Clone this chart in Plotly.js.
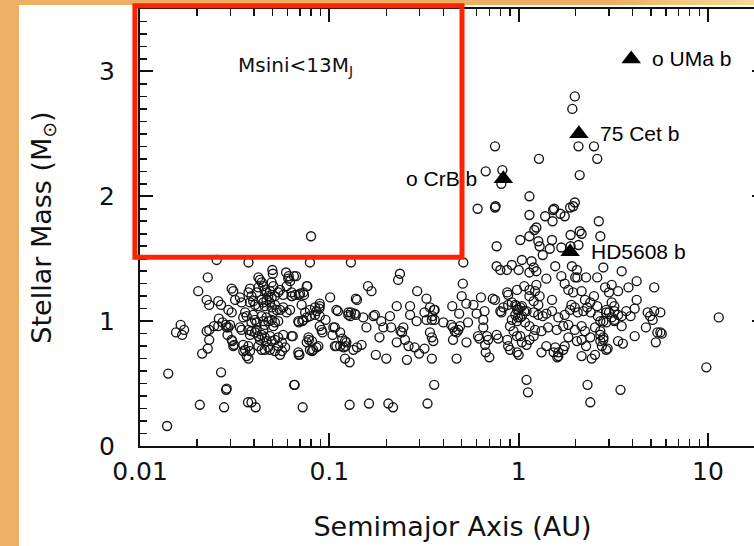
<!DOCTYPE html>
<html><head><meta charset="utf-8">
<script src="https://cdn.plot.ly/plotly-3.0.1.min.js"></script>
<style>
html,body{margin:0;padding:0;width:754px;height:546px;overflow:hidden;background:linear-gradient(90deg,#EDB064 0%,#EDB064 82%,#F2C77A 90%,#F6DA98 100%);}
#white{position:absolute;left:19px;top:5px;width:735px;height:541px;background:#fff;}
#chart{position:absolute;left:0;top:0;width:770px;height:546px;}
</style></head><body><div id="white"></div><div id="chart"></div>
<script>
// Host stars: semimajor axis (AU) and stellar mass (Msun)
const semimajorAxis = [
 0.0139,0.0141,0.0155,0.0164,0.0167,0.0171,0.0203,0.0207,0.0213,0.0225,
 0.0225,0.0228,0.0228,0.0232,0.0232,0.0232,0.0246,0.0254,0.0259,0.0259,
 0.0261,0.0268,0.0268,0.0273,0.0278,0.0284,0.0285,0.0287,0.0287,0.0293,
 0.0293,0.0290,0.0299,0.0305,0.0305,0.0305,0.0311,0.0307,0.0311,0.0314,
 0.0318,0.0337,0.0344,0.0337,0.0344,0.0351,0.0359,0.0366,0.0351,0.0359,
 0.0351,0.0366,0.0374,0.0372,0.0374,0.0374,0.0381,0.0381,0.0388,0.0396,
 0.0405,0.0374,0.0388,0.0405,0.0381,0.0374,0.0381,0.0388,0.0408,0.0396,
 0.0405,0.0413,0.0388,0.0413,0.0422,0.0422,0.0430,0.0440,0.0448,0.0456,
 0.0466,0.0439,0.0448,0.0456,0.0466,0.0422,0.0439,0.0448,0.0456,0.0476,
 0.0466,0.0413,0.0422,0.0439,0.0430,0.0448,0.0456,0.0466,0.0422,0.0439,
 0.0456,0.0476,0.0486,0.0476,0.0496,0.0496,0.0506,0.0500,0.0503,0.0516,
 0.0537,0.0549,0.0571,0.0486,0.0496,0.0516,0.0527,0.0506,0.0549,0.0571,
 0.0595,0.0620,0.0496,0.0516,0.0537,0.0506,0.0486,0.0496,0.0516,0.0537,
 0.0562,0.0571,0.0486,0.0516,0.0537,0.0549,0.0562,0.0584,0.0591,0.0595,
 0.0607,0.0620,0.0610,0.0650,0.0632,0.0632,0.0636,0.0632,0.0641,0.0652,
 0.0659,0.0667,0.0690,0.0700,0.0735,0.0729,0.0760,0.0765,0.0690,0.0720,
 0.0686,0.0729,0.0760,0.0790,0.0840,0.0890,0.0714,0.0745,0.0790,0.0840,
 0.0855,0.0890,0.0885,0.0890,0.0890,0.0910,0.0920,0.0780,0.0776,0.0760,
 0.0810,0.0790,0.0822,0.0810,0.0855,0.0875,0.0686,0.0690,0.0695,0.0723,
 0.0656,0.0790,0.0800,0.0955,0.101,0.105,0.104,0.107,0.107,0.109,
 0.111,0.114,0.117,0.121,0.123,0.109,0.114,0.119,0.122,0.126,
 0.126,0.129,0.130,0.136,0.138,0.138,0.140,0.151,0.157,0.121,
 0.128,0.128,0.130,0.134,0.140,0.148,0.160,0.167,0.162,0.171,
 0.174,0.176,0.184,0.188,0.193,0.200,0.205,0.209,0.212,0.217,
 0.227,0.227,0.231,0.236,0.238,0.242,0.246,0.251,0.257,0.262,
 0.267,0.267,0.282,0.289,0.291,0.298,0.318,0.318,0.326,0.326,
 0.330,0.340,0.348,0.348,0.348,0.350,0.357,0.360,0.360,0.340,
 0.354,0.358,0.400,0.440,0.446,0.450,0.460,0.480,0.490,0.470,
 0.485,0.450,0.470,0.500,0.507,0.510,0.529,0.530,0.540,0.577,
 0.600,0.607,0.610,0.620,0.632,0.650,0.650,0.660,0.665,0.670,
 0.670,0.680,0.690,0.700,0.730,0.750,0.750,0.750,0.755,0.765,
 0.765,0.765,0.780,0.800,0.800,0.810,0.820,0.810,0.830,0.867,
 0.870,0.880,0.880,0.870,0.880,0.900,0.900,0.920,0.920,0.920,
 0.940,0.970,0.980,0.980,0.980,0.980,0.990,0.980,0.960,0.960,
 1.00,1.00,1.00,1.02,1.02,1.02,1.02,1.04,1.04,1.04,
 1.04,1.07,1.07,1.08,1.10,1.10,1.10,1.12,1.14,1.14,
 1.14,1.14,1.14,1.14,1.14,1.14,1.17,1.20,1.20,1.20,
 1.20,1.21,1.22,1.22,1.24,1.24,1.24,1.27,1.27,1.27,
 1.28,1.29,1.29,1.32,1.32,1.34,1.34,1.38,1.40,1.40,
 1.40,1.43,1.46,1.50,1.50,1.50,1.51,1.52,1.54,1.53,
 1.56,1.56,1.59,1.60,1.62,1.62,1.62,1.66,1.68,1.68,
 1.72,1.72,1.75,1.75,1.75,1.83,1.83,1.83,1.87,1.88,
 1.88,1.87,1.91,1.90,1.94,1.94,1.92,1.98,1.98,1.98,
 1.98,1.99,2.03,2.04,2.03,2.05,2.07,2.07,2.10,2.10,
 2.15,2.15,2.15,2.15,2.15,2.20,2.24,2.24,2.27,2.27,
 2.30,2.31,2.39,2.39,2.39,2.40,2.43,2.50,2.50,2.53,
 2.53,2.60,2.60,2.60,2.62,2.65,2.70,2.70,2.70,2.70,
 2.70,2.75,2.80,2.80,2.80,2.80,2.86,2.90,2.90,2.90,
 2.90,2.95,3.00,3.00,3.10,3.10,3.10,3.20,3.20,3.20,
 3.20,3.35,3.35,3.35,3.45,3.50,3.50,3.50,3.55,3.70,
 3.80,3.90,4.10,4.10,4.20,4.20,4.70,4.80,4.95,5.10,
 5.20,5.20,5.30,5.40,5.60,5.60,5.70,9.80,11.4,1.75
];
const stellarMass = [
 0.16,0.58,0.91,0.97,0.89,0.93,1.24,0.33,0.74,1.17,
 0.92,1.35,0.78,1.13,0.93,0.85,0.96,1.49,1.16,0.96,
 1.02,1.13,0.59,0.99,0.31,0.97,0.45,0.46,0.95,0.95,
 1.09,0.89,0.97,1.26,1.07,0.85,1.24,0.84,0.80,0.81,
 1.17,1.19,1.15,0.95,0.93,1.03,1.07,1.04,0.81,0.77,
 0.76,0.72,0.70,0.35,1.47,1.23,1.26,1.15,1.20,1.16,
 1.13,0.93,0.92,0.91,0.89,0.80,0.76,0.35,0.31,1.05,
 1.01,0.99,0.99,1.23,1.27,1.35,1.33,1.31,1.28,1.25,
 1.23,1.17,1.15,1.12,1.17,1.12,1.04,1.00,0.97,1.00,
 1.03,0.93,0.88,0.89,0.85,0.93,0.87,0.84,0.80,0.77,
 0.77,0.79,1.24,1.20,1.19,1.31,1.28,1.41,1.38,1.20,
 1.23,1.25,1.21,1.15,1.11,1.13,1.09,1.07,1.09,1.11,
 1.07,1.09,1.01,0.99,1.00,0.96,0.88,0.84,0.85,0.87,
 0.83,0.89,0.77,0.76,0.80,0.73,0.76,0.79,1.39,1.28,
 1.34,1.32,1.36,1.36,1.23,1.20,1.20,0.88,0.88,0.49,
 1.21,1.36,1.21,1.22,1.21,1.23,1.28,1.28,0.99,1.00,
 1.00,1.01,1.03,1.04,1.05,1.04,1.13,1.07,1.09,1.11,
 1.08,1.12,1.10,1.14,0.96,0.93,0.91,0.85,0.87,0.83,
 0.84,0.77,0.77,0.76,0.79,0.80,0.75,0.73,0.73,0.31,
 0.49,1.47,1.68,1.01,1.19,0.95,0.89,0.80,0.95,1.09,
 1.08,0.91,0.86,0.84,0.83,0.80,0.80,0.79,0.80,1.05,
 1.07,1.04,1.07,1.06,1.18,1.05,1.17,1.03,0.95,0.70,
 0.67,0.33,1.47,0.77,0.79,0.81,1.28,1.24,0.34,1.04,
 1.05,0.73,0.87,1.00,0.95,0.70,0.34,1.04,0.95,0.31,
 1.12,0.83,1.33,1.38,0.92,0.91,0.95,0.85,0.69,0.80,
 1.12,1.05,0.79,1.00,1.24,0.74,0.78,1.07,1.18,1.01,
 0.34,1.11,1.01,0.87,0.70,1.04,1.09,1.09,1.01,0.91,
 0.84,0.49,0.99,0.97,1.12,0.95,0.92,0.93,0.96,0.91,
 1.06,0.85,0.70,1.20,1.30,1.47,1.14,0.83,0.99,1.13,
 1.06,1.90,0.88,0.86,1.19,1.01,0.95,1.08,0.81,0.75,
 2.20,0.88,0.85,0.71,1.18,1.17,2.40,1.91,1.92,1.60,
 1.44,0.89,0.86,1.41,1.08,1.07,2.21,2.10,1.11,1.41,
 1.23,1.21,1.13,0.85,0.80,0.96,0.77,1.45,1.15,1.01,
 0.92,1.12,1.09,1.00,0.88,0.75,1.03,1.25,1.13,1.05,
 1.41,0.73,1.09,1.65,1.11,1.03,0.88,1.49,1.04,1.12,
 0.83,1.08,1.28,0.99,1.08,0.81,0.53,0.43,2.00,1.85,
 1.68,1.39,1.25,1.20,0.96,0.85,1.48,1.43,1.16,1.07,
 0.88,1.73,1.24,0.93,1.75,1.29,1.40,1.64,1.13,1.05,
 2.30,1.60,1.20,0.92,0.75,1.53,1.04,1.84,1.34,1.06,
 0.80,0.95,1.58,1.65,1.17,1.08,1.80,1.89,1.90,0.75,
 1.44,0.79,0.93,0.71,1.03,0.75,0.72,1.86,1.59,1.36,
 0.96,0.77,1.84,1.05,0.80,1.25,0.97,0.87,1.91,1.69,
 1.60,1.09,1.44,1.13,1.23,1.92,2.70,2.80,1.95,1.11,
 0.93,1.35,1.41,1.35,0.84,1.07,2.40,1.61,2.17,1.72,
 1.70,1.24,0.96,0.85,0.72,1.08,1.17,0.92,1.35,0.80,
 1.11,0.49,1.15,0.87,0.35,1.07,0.70,2.40,1.20,0.95,
 0.73,2.30,1.35,1.12,1.04,1.80,1.68,0.92,0.84,1.00,
 0.89,0.80,1.43,1.00,0.87,0.85,1.27,1.07,1.09,0.99,
 0.77,0.78,1.23,1.07,1.15,1.03,1.29,1.12,1.08,1.01,
 1.00,1.24,1.05,0.84,0.45,1.40,1.04,0.96,0.82,1.08,
 1.27,1.04,1.10,0.88,1.32,1.17,0.95,1.07,1.04,1.01,
 1.27,1.08,0.83,0.91,0.91,1.07,0.90,0.63,1.03,1.30
];

// Highlighted planets (filled triangles)
const planetNames = ['o UMa b', '75 Cet b', 'o CrB b', 'HD5608 b'];
const planetAxis  = [3.93, 2.08, 0.83, 1.87];
const planetMass  = [3.10, 2.50, 2.14, 1.555];
const planetLabelSide = ['right', 'right', 'left', 'right'];

// Axes
const xRange = [0.01, 20];
const yRange = [0, 3.5];
const xTickVals = [0.01, 0.1, 1, 10];
const xTickText = ['0.01', '0.1', '1', '10'];
const xMinorVals = [0.02,0.03,0.04,0.05,0.06,0.07,0.08,0.09,0.2,0.3,0.4,0.5,0.6,0.7,0.8,0.9,2,3,4,5,6,7,8,9,20];
const yTickVals = [0, 1, 2, 3];
const yMinorVals = [0.1,0.2,0.3,0.4,0.5,0.6,0.7,0.8,0.9,1.1,1.2,1.3,1.4,1.5,1.6,1.7,1.8,1.9,
                    2.1,2.2,2.3,2.4,2.5,2.6,2.7,2.8,2.9,3.1,3.2,3.3,3.4];

// Highlight box (Msini < 13 MJ region)
const boxAxis = [0.0094, 0.502];
const boxMass = [1.512, 3.526];
const boxLabel = 'Msini<13M<sub>J</sub>';
const boxLabelPos = [0.0321, 3.044];

const lx0 = Math.log10(xRange[0]), lx1 = Math.log10(xRange[1]);
const fx = v => (Math.log10(v) - lx0) / (lx1 - lx0);
const fy = v => (v - yRange[0]) / (yRange[1] - yRange[0]);

const FONT = 'DejaVu Sans, sans-serif';
const INK = '#111';

const traces = [
  {
    type: 'scatter', mode: 'markers', x: semimajorAxis, y: stellarMass,
    marker: {symbol: 'circle-open', size: 9, color: '#141414', line: {width: 1.35, color: '#141414'}},
    hoverinfo: 'skip', cliponaxis: true
  },
  {
    type: 'scatter', mode: 'markers', x: planetAxis, y: planetMass,
    marker: {symbol: 'triangle-up', size: 17, color: '#000'},
    hoverinfo: 'skip', cliponaxis: false
  },
  // carrier for the minor-tick axes
  {type: 'scatter', mode: 'markers', x: [], y: [], xaxis: 'x2', yaxis: 'y2', hoverinfo: 'skip', showlegend: false}
];

const annotations = planetNames.map((n, i) => ({
  x: Math.log10(planetAxis[i]), y: planetMass[i], xref: 'x', yref: 'y',
  text: n, showarrow: false,
  xanchor: planetLabelSide[i] === 'right' ? 'left' : 'right',
  xshift: planetLabelSide[i] === 'right' ? 19 : -24, yshift: 0,
  font: {family: 'Liberation Sans, Arial, sans-serif', size: 21, color: '#000'}
}));
annotations.push({
  x: Math.log10(boxLabelPos[0]), y: boxLabelPos[1], xref: 'x', yref: 'y',
  text: boxLabel, showarrow: false, xanchor: 'left', yanchor: 'middle',
  font: {family: FONT, size: 20, color: INK}
});

const baseAxis = {
  ticks: 'inside', tickcolor: INK, showgrid: false, zeroline: false,
  showline: true, linewidth: 2, linecolor: INK, mirror: 'ticks'
};

const layout = {
  width: 770, height: 546,
  margin: {l: 140, r: 5, t: 9, b: 100},
  paper_bgcolor: 'rgba(0,0,0,0)', plot_bgcolor: '#fff',
  showlegend: false, hovermode: false,
  font: {family: FONT, color: INK},
  xaxis: Object.assign({}, baseAxis, {
    type: 'log', range: [lx0, lx1], autorange: false,
    tickmode: 'array', tickvals: xTickVals, ticktext: xTickText,
    ticklen: 13, tickwidth: 2,
    tickfont: {family: FONT, size: 25, color: INK}, ticklabelstandoff: 2,
    title: {text: 'Semimajor Axis (AU)', font: {family: FONT, size: 27, color: INK}, standoff: 32}
  }),
  yaxis: Object.assign({}, baseAxis, {
    range: yRange, autorange: false,
    tickmode: 'array', tickvals: yTickVals,
    ticklen: 13, tickwidth: 2,
    tickfont: {family: FONT, size: 25, color: INK}, ticklabelstandoff: 18,
    title: {text: 'Stellar Mass (M<sub>⊙</sub>)', font: {family: FONT, size: 27, color: INK}, standoff: 40}
  }),
  xaxis2: Object.assign({}, baseAxis, {
    type: 'log', range: [lx0, lx1], autorange: false, overlaying: 'x', anchor: 'y2', side: 'bottom',
    tickmode: 'array', tickvals: xMinorVals, ticklen: 7, tickwidth: 1.6, showticklabels: false
  }),
  yaxis2: Object.assign({}, baseAxis, {
    range: yRange, autorange: false, overlaying: 'y', anchor: 'x2', side: 'left',
    tickmode: 'array', tickvals: yMinorVals, ticklen: 7, tickwidth: 1.6, showticklabels: false
  }),
  shapes: [{
    type: 'rect', xref: 'x domain', yref: 'y domain',
    x0: fx(boxAxis[0]), x1: fx(boxAxis[1]), y0: fy(boxMass[0]), y1: fy(boxMass[1]),
    line: {color: '#FF2200', width: 5}, fillcolor: 'rgba(0,0,0,0)', layer: 'above'
  }],
  annotations: annotations
};

Plotly.newPlot('chart', traces, layout, {displayModeBar: false, staticPlot: true});
</script></body></html>
